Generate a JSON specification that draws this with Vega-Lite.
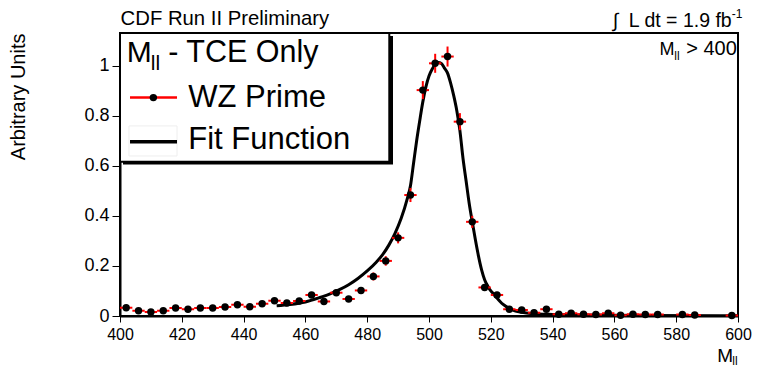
{
  "$schema": "https://vega.github.io/schema/vega-lite/v6.json",
  "width": 618,
  "height": 283,
  "autosize": "none",
  "padding": {"left": 120, "top": 33, "right": 19, "bottom": 51},
  "background": "white",
  "config": {
    "font": "Liberation Sans",
    "view": {"stroke": "black", "strokeWidth": 2},
    "axis": {"grid": false, "domainColor": "black", "domainWidth": 2, "tickColor": "black", "tickWidth": 1, "labelColor": "black", "labelFont": "Liberation Sans", "labelFlush": false, "labelOverlap": false, "titleFont": "Liberation Sans", "titleFontWeight": "normal", "titleColor": "black"},
    "axisX": {"labelFontSize": 16, "labelPadding": 4},
    "axisY": {"labelFontSize": 18, "labelPadding": 3}
  },
  "data": {"values": [{"note": "annotation"}]},
  "datasets": {
    "points": [
      {"m": 402, "y": 0.033, "err": 0.007, "half": 2},
      {"m": 406, "y": 0.021, "err": 0.006, "half": 2},
      {"m": 410, "y": 0.016, "err": 0.005, "half": 2},
      {"m": 414, "y": 0.021, "err": 0.006, "half": 2},
      {"m": 418, "y": 0.032, "err": 0.007, "half": 2},
      {"m": 422, "y": 0.027, "err": 0.007, "half": 2},
      {"m": 426, "y": 0.032, "err": 0.007, "half": 2},
      {"m": 430, "y": 0.032, "err": 0.007, "half": 2},
      {"m": 434, "y": 0.036, "err": 0.008, "half": 2},
      {"m": 438, "y": 0.045, "err": 0.008, "half": 2},
      {"m": 442, "y": 0.037, "err": 0.008, "half": 2},
      {"m": 446, "y": 0.049, "err": 0.009, "half": 2},
      {"m": 450, "y": 0.061, "err": 0.010, "half": 2},
      {"m": 454, "y": 0.052, "err": 0.009, "half": 2},
      {"m": 458, "y": 0.060, "err": 0.010, "half": 2},
      {"m": 462, "y": 0.084, "err": 0.012, "half": 2},
      {"m": 466, "y": 0.058, "err": 0.010, "half": 2},
      {"m": 470, "y": 0.093, "err": 0.012, "half": 2},
      {"m": 474, "y": 0.068, "err": 0.010, "half": 2},
      {"m": 478, "y": 0.102, "err": 0.013, "half": 2},
      {"m": 482, "y": 0.158, "err": 0.016, "half": 2},
      {"m": 486, "y": 0.220, "err": 0.019, "half": 2},
      {"m": 490, "y": 0.312, "err": 0.022, "half": 2},
      {"m": 494, "y": 0.483, "err": 0.028, "half": 2},
      {"m": 498, "y": 0.902, "err": 0.036, "half": 2},
      {"m": 502, "y": 1.009, "err": 0.038, "half": 2},
      {"m": 506, "y": 1.036, "err": 0.040, "half": 2},
      {"m": 510, "y": 0.776, "err": 0.034, "half": 2},
      {"m": 514, "y": 0.376, "err": 0.024, "half": 2},
      {"m": 518, "y": 0.114, "err": 0.013, "half": 2},
      {"m": 522, "y": 0.084, "err": 0.012, "half": 2},
      {"m": 526, "y": 0.027, "err": 0.007, "half": 2},
      {"m": 530, "y": 0.024, "err": 0.006, "half": 2},
      {"m": 534, "y": 0.013, "err": 0.005, "half": 2},
      {"m": 538, "y": 0.027, "err": 0.007, "half": 2},
      {"m": 542, "y": 0.007, "err": 0.004, "half": 2},
      {"m": 546, "y": 0.011, "err": 0.004, "half": 2},
      {"m": 550, "y": 0.007, "err": 0.004, "half": 2},
      {"m": 554, "y": 0.006, "err": 0.003, "half": 2},
      {"m": 558, "y": 0.011, "err": 0.004, "half": 2},
      {"m": 562, "y": 0.003, "err": 0.003, "half": 2},
      {"m": 566, "y": 0.007, "err": 0.004, "half": 2},
      {"m": 570, "y": 0.006, "err": 0.003, "half": 2},
      {"m": 574, "y": 0.006, "err": 0.003, "half": 2},
      {"m": 582, "y": 0.006, "err": 0.003, "half": 2},
      {"m": 586, "y": 0.004, "err": 0.003, "half": 2},
      {"m": 598, "y": 0.002, "err": 0.002, "half": 2}
    ],
    "fit": [
      {"m": 450.7, "f": 0.041}, {"m": 455, "f": 0.046}, {"m": 460, "f": 0.056}, {"m": 465, "f": 0.075},
      {"m": 468, "f": 0.088}, {"m": 471, "f": 0.105}, {"m": 474, "f": 0.125}, {"m": 477, "f": 0.150},
      {"m": 480, "f": 0.180}, {"m": 483, "f": 0.216}, {"m": 485, "f": 0.245}, {"m": 487, "f": 0.283},
      {"m": 489, "f": 0.330}, {"m": 491, "f": 0.390}, {"m": 493, "f": 0.470}, {"m": 494, "f": 0.520},
      {"m": 495, "f": 0.610}, {"m": 496, "f": 0.700}, {"m": 497, "f": 0.780}, {"m": 498, "f": 0.855},
      {"m": 499, "f": 0.915}, {"m": 500, "f": 0.958}, {"m": 501, "f": 0.985}, {"m": 502, "f": 1.003},
      {"m": 503, "f": 1.012}, {"m": 504, "f": 1.008}, {"m": 505, "f": 0.990}, {"m": 506, "f": 0.970},
      {"m": 507, "f": 0.930}, {"m": 508, "f": 0.880}, {"m": 509, "f": 0.820}, {"m": 510, "f": 0.740},
      {"m": 511, "f": 0.630}, {"m": 512, "f": 0.540}, {"m": 513, "f": 0.450}, {"m": 514, "f": 0.376},
      {"m": 515, "f": 0.305}, {"m": 516, "f": 0.240}, {"m": 517, "f": 0.185}, {"m": 518, "f": 0.145},
      {"m": 519, "f": 0.120}, {"m": 520, "f": 0.100}, {"m": 521, "f": 0.087}, {"m": 522, "f": 0.072},
      {"m": 523, "f": 0.058}, {"m": 524, "f": 0.046}, {"m": 526, "f": 0.030}, {"m": 528, "f": 0.020},
      {"m": 530, "f": 0.015}, {"m": 533, "f": 0.010}, {"m": 540, "f": 0.006}, {"m": 550, "f": 0.004},
      {"m": 570, "f": 0.002}, {"m": 600, "f": 0.001}
    ]
  },
  "layer": [
    {
      "data": {"name": "fit"},
      "mark": {"type": "line", "color": "black", "strokeWidth": 3, "interpolate": "monotone", "clip": true},
      "encoding": {
        "x": {"field": "m", "type": "quantitative", "title": null,
          "scale": {"domain": [400, 600], "nice": false, "zero": false},
          "axis": {
            "values": [400,405,410,415,420,425,430,435,440,445,450,455,460,465,470,475,480,485,490,495,500,505,510,515,520,525,530,535,540,545,550,555,560,565,570,575,580,585,590,595,600],
            "labelExpr": "datum.value % 20 === 0 ? datum.label : ''",
            "tickSize": {"condition": {"test": "datum.value % 20 === 0", "value": 6}, "value": 3},
            "title": null
          }
        },
        "y": {"field": "f", "type": "quantitative", "title": "Arbitrary Units",
          "scale": {"domain": [0, 1.13], "nice": false, "zero": false},
          "axis": {
            "values": [0,0.05,0.1,0.15,0.2,0.25,0.3,0.35,0.4,0.45,0.5,0.55,0.6,0.65,0.7,0.75,0.8,0.85,0.9,0.95,1,1.05,1.1],
            "labelExpr": "abs(datum.value*5 - round(datum.value*5)) < 0.000001 ? format(datum.value, '~g') : ''",
            "tickSize": {"condition": {"test": "abs(datum.value*5 - round(datum.value*5)) < 0.000001", "value": 8}, "value": 4},
            "title": "Arbitrary Units",
            "titleFontSize": 20,
            "titleAngle": 270,
            "titleAlign": "right",
            "titleBaseline": "middle",
            "titleX": -101.5,
            "titleY": 0
          }
        }
      }
    },
    {
      "data": {"name": "points"},
      "mark": {"type": "errorbar", "color": "red", "thickness": 2},
      "encoding": {
        "x": {"field": "m", "type": "quantitative", "title": null},
        "y": {"field": "y", "type": "quantitative", "title": "Arbitrary Units"},
        "yError": {"field": "err"}
      }
    },
    {
      "data": {"name": "points"},
      "mark": {"type": "errorbar", "color": "red", "thickness": 2},
      "encoding": {
        "y": {"field": "y", "type": "quantitative", "title": "Arbitrary Units"},
        "x": {"field": "m", "type": "quantitative", "title": null},
        "xError": {"field": "half"}
      }
    },
    {
      "data": {"name": "points"},
      "mark": {"type": "point", "filled": true, "color": "black", "opacity": 1, "size": 55},
      "encoding": {
        "x": {"field": "m", "type": "quantitative", "title": null},
        "y": {"field": "y", "type": "quantitative", "title": "Arbitrary Units"}
      }
    },
    {
      "mark": {"type": "rect", "fill": "black"},
      "encoding": {
        "x": {"datum": 400.97, "type": "quantitative"}, "x2": {"datum": 488.35},
        "y": {"datum": 1.118, "type": "quantitative"}, "y2": {"datum": 0.605}
      }
    },
    {
      "mark": {"type": "rect", "fill": "white", "stroke": "black", "strokeWidth": 2},
      "encoding": {
        "x": {"datum": 400, "type": "quantitative"}, "x2": {"datum": 487.15},
        "y": {"datum": 1.13, "type": "quantitative"}, "y2": {"datum": 0.616}
      }
    },
    {
      "mark": {"type": "rect", "fill": null, "stroke": "#eeeeee", "strokeWidth": 1},
      "encoding": {
        "x": {"datum": 402.9, "type": "quantitative"}, "x2": {"datum": 418.45},
        "y": {"datum": 0.759, "type": "quantitative"}, "y2": {"datum": 0.639}
      }
    },
    {
      "mark": {"type": "rule", "color": "red", "strokeWidth": 2.5},
      "encoding": {
        "x": {"datum": 403.24, "type": "quantitative"}, "x2": {"datum": 418.45},
        "y": {"datum": 0.872, "type": "quantitative"}
      }
    },
    {
      "mark": {"type": "point", "filled": true, "color": "black", "opacity": 1, "size": 55},
      "encoding": {
        "x": {"datum": 410.8, "type": "quantitative"},
        "y": {"datum": 0.872, "type": "quantitative"}
      }
    },
    {
      "mark": {"type": "rule", "color": "black", "strokeWidth": 3.5},
      "encoding": {
        "x": {"datum": 403.24, "type": "quantitative"}, "x2": {"datum": 418.45},
        "y": {"datum": 0.696, "type": "quantitative"}
      }
    },
    {
      "mark": {"type": "text", "text": "M", "align": "left", "baseline": "alphabetic", "fontSize": 30, "color": "black"},
      "encoding": {"x": {"datum": 402.17, "type": "quantitative"}, "y": {"datum": 1.015, "type": "quantitative"}}
    },
    {
      "mark": {"type": "text", "text": "ll", "align": "left", "baseline": "alphabetic", "fontSize": 21, "color": "black"},
      "encoding": {"x": {"datum": 409.94, "type": "quantitative"}, "y": {"datum": 0.982, "type": "quantitative"}}
    },
    {
      "mark": {"type": "text", "text": "- TCE Only", "align": "left", "baseline": "alphabetic", "fontSize": 30.5, "color": "black"},
      "encoding": {"x": {"datum": 415.6, "type": "quantitative"}, "y": {"datum": 1.015, "type": "quantitative"}}
    },
    {
      "mark": {"type": "text", "text": "WZ Prime", "align": "left", "baseline": "alphabetic", "fontSize": 31, "color": "black"},
      "encoding": {"x": {"datum": 422.1, "type": "quantitative"}, "y": {"datum": 0.836, "type": "quantitative"}}
    },
    {
      "mark": {"type": "text", "text": "Fit Function", "align": "left", "baseline": "alphabetic", "fontSize": 31, "color": "black"},
      "encoding": {"x": {"datum": 422.1, "type": "quantitative"}, "y": {"datum": 0.667, "type": "quantitative"}}
    },
    {
      "mark": {"type": "text", "text": "CDF Run II Preliminary", "align": "left", "baseline": "alphabetic", "fontSize": 20.3, "color": "black"},
      "encoding": {"x": {"datum": 400.2, "type": "quantitative"}, "y": {"datum": 1.162, "type": "quantitative"}}
    },
    {
      "mark": {"type": "text", "text": "∫\u00a0\u00a0L dt = 1.9 fb", "align": "right", "baseline": "alphabetic", "fontSize": 19.5, "color": "black"},
      "encoding": {"x": {"datum": 597.96, "type": "quantitative"}, "y": {"datum": 1.155, "type": "quantitative"}}
    },
    {
      "mark": {"type": "text", "text": "-1", "align": "left", "baseline": "alphabetic", "fontSize": 12, "color": "black"},
      "encoding": {"x": {"datum": 597.96, "type": "quantitative"}, "y": {"datum": 1.189, "type": "quantitative"}}
    },
    {
      "mark": {"type": "text", "text": "M", "align": "left", "baseline": "alphabetic", "fontSize": 18, "color": "black"},
      "encoding": {"x": {"datum": 574.6, "type": "quantitative"}, "y": {"datum": 1.042, "type": "quantitative"}}
    },
    {
      "mark": {"type": "text", "text": "ll", "align": "left", "baseline": "alphabetic", "fontSize": 12, "color": "black"},
      "encoding": {"x": {"datum": 579.4, "type": "quantitative"}, "y": {"datum": 1.022, "type": "quantitative"}}
    },
    {
      "mark": {"type": "text", "text": "> 400", "align": "right", "baseline": "alphabetic", "fontSize": 20, "color": "black"},
      "encoding": {"x": {"datum": 599.6, "type": "quantitative"}, "y": {"datum": 1.042, "type": "quantitative"}}
    },
    {
      "mark": {"type": "text", "text": "M", "align": "left", "baseline": "alphabetic", "fontSize": 19, "color": "black"},
      "encoding": {"x": {"datum": 593.3, "type": "quantitative"}, "y": {"datum": -0.182, "type": "quantitative"}}
    },
    {
      "mark": {"type": "text", "text": "ll", "align": "left", "baseline": "alphabetic", "fontSize": 12, "color": "black"},
      "encoding": {"x": {"datum": 598.16, "type": "quantitative"}, "y": {"datum": -0.196, "type": "quantitative"}}
    }
  ]
}
